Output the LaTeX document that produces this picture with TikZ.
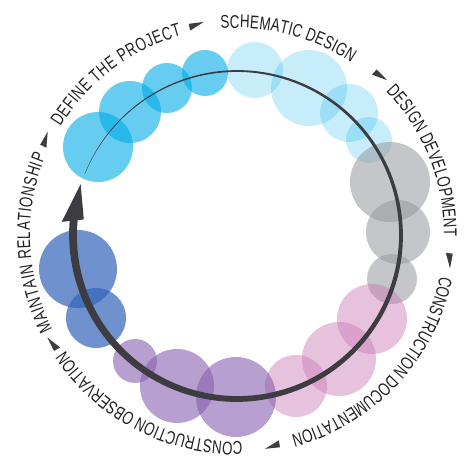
\documentclass[tikz,border=0pt]{standalone}
\usepackage{fontspec}
\usepackage{tikz}
\usepackage{xcolor}
\usetikzlibrary{decorations.text}
\newfontfamily\phasefont[FakeStretch=0.72]{Liberation Sans}
\definecolor{phcyan}{RGB}{0, 170, 230}
\definecolor{phgray}{RGB}{150, 152, 156}
\definecolor{phpink}{RGB}{200, 120, 180}
\definecolor{phpurple}{RGB}{135, 95, 175}
\definecolor{phblue}{RGB}{50, 100, 185}
\definecolor{arcgray}{RGB}{60, 60, 65}
\definecolor{labelink}{RGB}{35, 31, 32}
\tikzset{
    definebub/.style={fill=phcyan, fill opacity=0.6},
    schembub/.style={fill=phcyan, fill opacity=0.22},
    devbub/.style={fill=phgray, fill opacity=0.55},
    docbub/.style={fill=phpink, fill opacity=0.45},
    obsbub/.style={fill=phpurple, fill opacity=0.6},
    maintbub/.style={fill=phblue, fill opacity=0.7},
    pointer/.style={fill=arcgray},
    phaselabel/.style={decorate, decoration={text along path, text align={fit to path}, text color=labelink,
        text={|\phasefont\fontsize{18.5}{21}\selectfont|#1}}}
}

\begin{document}
\begin{tikzpicture}[x=1pt, y=1pt]
    \useasboundingbox (-237,-241) rectangle (237,235);

    % bubbles, one group per phase
    \foreach \cx/\cy/\r in {-139/88/35, -107/123/31, -70/147/25, -32/162/23}
        \fill[definebub] (\cx,\cy) circle[radius=\r];
    \foreach \cx/\cy/\r in {18/165/28, 72/147/38, 112/122/29, 132/95/23}
        \fill[schembub] (\cx,\cy) circle[radius=\r];
    \foreach \cx/\cy/\r in {153/53/40, 161/3/32, 155/-44/25}
        \fill[devbub] (\cx,\cy) circle[radius=\r];
    \foreach \cx/\cy/\r in {135/-84/35, 102/-124/37, 59/-151/31}
        \fill[docbub] (\cx,\cy) circle[radius=\r];
    \foreach \cx/\cy/\r in {-1/-162/40, -60/-151/37, -102/-126/22}
        \fill[obsbub] (\cx,\cy) circle[radius=\r];
    \foreach \cx/\cy/\r in {-159/-34/39, -141/-83/30}
        \fill[maintbub] (\cx,\cy) circle[radius=\r];

    % cycle arrow, thin at its start and heavy at the head
    \fill[arcgray] plot[domain=158:-185.5, samples=160] (\x:{164+0.15+3.8*(158-\x)/343.5})
        -- plot[domain=-185.5:158, samples=160] (\x:{164-0.15-3.8*(158-\x)/343.5}) -- cycle;
    \fill[arcgray] (162:164.4) -- (175.7:175.8) -- (174.2:154) -- cycle;

    % phase names round the ring
    \path[phaselabel=DEFINE THE PROJECT] (148.5:207) arc[start angle=148.5, end angle=105.5, radius=207];
    \path[phaselabel=SCHEMATIC DESIGN] (94.5:207) arc[start angle=94.5, end angle=56.5, radius=207];
    \path[phaselabel=DESIGN DEVELOPMENT] (44:207) arc[start angle=44, end angle=-0.5, radius=207];
    \path[phaselabel=CONSTRUCTION DOCUMENTATION] (-11.5:207) arc[start angle=-11.5, end angle=-74.5, radius=207];
    \path[phaselabel=CONSTRUCTION OBSERVATION] (-88.5:207) arc[start angle=-88.5, end angle=-146, radius=207];
    \path[phaselabel=MAINTAIN RELATIONSHIP] (207:207) arc[start angle=207, end angle=157.5, radius=207];

    % small wedges between the phases
    \foreach \a [count=\i] in {101, 48, -6.8, -80.4, -149.5, 153.5} {
        \coordinate (mark\i) at (\a:213);
        \fill[pointer, shift={(mark\i)}, rotate=\a-90] (-7,3.5) -- (8,2.5) -- (-7,-3.5) -- cycle;
    }
\end{tikzpicture}
\end{document}
